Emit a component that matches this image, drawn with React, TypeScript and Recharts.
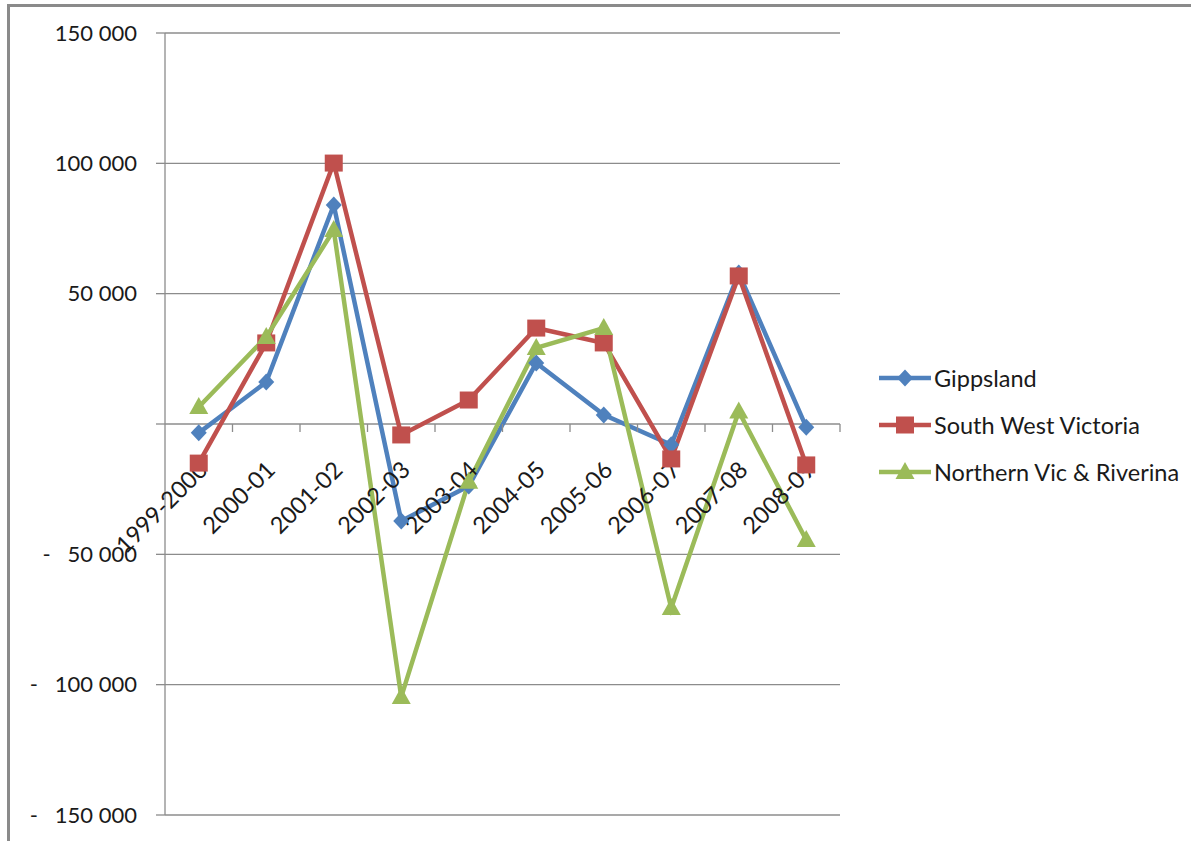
import { LineChart, Line, XAxis, YAxis, CartesianGrid, Legend, ReferenceDot } from "recharts";

const categories = [
  "1999-2000", "2000-01", "2001-02", "2002-03", "2003-04",
  "2004-05", "2005-06", "2006-07", "2007-08", "2008-09",
];
const gippsland = [-3400, 16100, 84000, -37200, -23800, 23400, 3500, -8000, 57900, -1200];
const southWestVictoria = [-15000, 31100, 100100, -4200, 9200, 36800, 31100, -13400, 56800, -15700];
const northernVic = [6500, 33400, 74400, -104700, -22200, 29200, 36800, -70600, 4800, -44500];
const yTicks = [-150000, -100000, -50000, 0, 50000, 100000, 150000];

const series = [
  { key: "gippsland", name: "Gippsland", color: "#4F81BD", marker: "diamond" },
  { key: "southWest", name: "South West Victoria", color: "#C0504D", marker: "square" },
  { key: "northern", name: "Northern Vic & Riverina", color: "#9BBB59", marker: "triangle" },
];

const data = categories.map((period, i) => ({
  period,
  gippsland: gippsland[i],
  southWest: southWestVictoria[i],
  northern: northernVic[i],
}));

const FONT = "Lato, 'Open Sans', sans-serif";
const GRID = "#8c8c8c";
const BAND = 67.5;

const Marker = ({ cx, cy, type, color }: any) => {
  if (cx == null || cy == null) return null;
  if (type === "diamond")
    return <path d={`M${cx},${cy - 8.5}L${cx + 8},${cy}L${cx},${cy + 8.5}L${cx - 8},${cy}Z`} fill={color} />;
  if (type === "square")
    return <rect x={cx - 9} y={cy - 8.5} width={18} height={17} fill={color} />;
  return <path d={`M${cx},${cy - 10}L${cx + 9.5},${cy + 7}L${cx - 9.5},${cy + 7}Z`} fill={color} />;
};

const fmt = (v: number) => {
  if (v === 0) return "";
  const s = Math.abs(v).toString().replace(/\B(?=(\d{3})+(?!\d))/g, "\u00a0");
  return v < 0 ? "-\u00a0\u00a0\u00a0" + s : s;
};

const CategoryLabel = ({ cx, cy, label }: any) => {
  if (cx == null || cy == null) return null;
  const ax = cx + 4;
  const ay = cy + 41;
  return (
    <g>
      <line x1={cx + BAND / 2} y1={cy} x2={cx + BAND / 2} y2={cy + 8} stroke={GRID} strokeWidth={1.3} />
      <text
        x={ax}
        y={ay}
        textAnchor="end"
        dominantBaseline="central"
        transform={`rotate(-45, ${ax}, ${ay})`}
        fontFamily={FONT}
        fontSize={23.5}
        fill="#1a1a1a"
      >
        {label}
      </text>
    </g>
  );
};

const legendContent = () => (
  <div style={{ fontFamily: FONT, fontSize: 23.5, color: "#1a1a1a" }}>
    {series.map((s) => (
      <div key={s.key} style={{ display: "flex", alignItems: "center", height: 47 }}>
        <svg width={56} height={22} style={{ marginRight: 1 }}>
          <line x1={2} y1={11} x2={54} y2={11} stroke={s.color} strokeWidth={4.5} />
          <Marker cx={28} cy={11} type={s.marker} color={s.color} />
        </svg>
        <span>{s.name}</span>
      </div>
    ))}
  </div>
);

export default function App() {
  return (
    <div style={{ position: "absolute", left: 0, top: 0, width: 1191, height: 841, background: "#fff", overflow: "hidden" }}>
      <div
        style={{
          position: "absolute",
          left: 7,
          top: 4,
          width: 1191,
          height: 841,
          borderLeft: "3px solid #8a8a8a",
          borderTop: "3px solid #8a8a8a",
        }}
      />
      <div style={{ position: "absolute", left: 0, top: 0 }}>
        <LineChart width={1191} height={841} data={data} margin={{ top: 33, right: 351, bottom: 26, left: 0 }}>
          <CartesianGrid vertical={false} stroke={GRID} strokeWidth={1.3} />
          <XAxis dataKey="period" hide height={0} padding={{ left: BAND / 2, right: BAND / 2 }} />
          <YAxis
            width={165}
            domain={[-150000, 150000]}
            ticks={yTicks}
            interval={0}
            tickFormatter={fmt}
            tickSize={9}
            tickMargin={19}
            axisLine={{ stroke: GRID, strokeWidth: 1.3 }}
            tickLine={{ stroke: GRID, strokeWidth: 1.3 }}
            tick={{ fontFamily: FONT, fontSize: 22, fill: "#1a1a1a" }}
          />
          {categories.map((c) => (
            <ReferenceDot
              key={c}
              x={c}
              y={0}
              r={0}
              ifOverflow="visible"
              shape={(p: any) => <CategoryLabel {...p} label={c} />}
            />
          ))}
          {series.map((s) => (
            <Line
              key={s.key}
              type="linear"
              dataKey={s.key}
              name={s.name}
              stroke={s.color}
              strokeWidth={4.5}
              isAnimationActive={false}
              dot={(p: any) => <Marker key={`${s.key}-${p.index}`} cx={p.cx} cy={p.cy} type={s.marker} color={s.color} />}
              activeDot={false}
            />
          ))}
          <Legend
            layout="vertical"
            align="center"
            verticalAlign="middle"
            content={legendContent}
            wrapperStyle={{ left: 877, top: 354, width: 314 }}
          />
        </LineChart>
      </div>
    </div>
  );
}
